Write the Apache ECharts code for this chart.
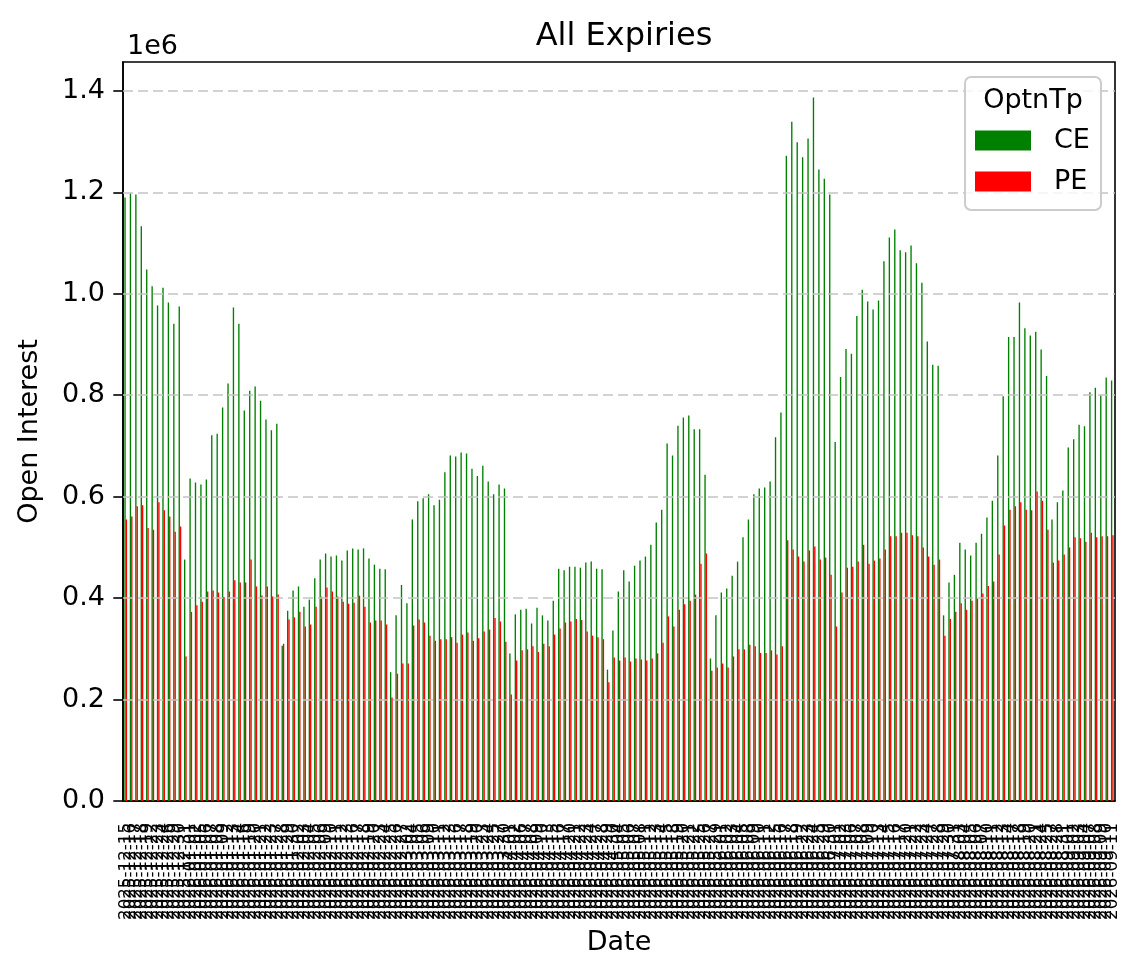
<!DOCTYPE html>
<html>
<head>
<meta charset="utf-8">
<script src="https://cdn.jsdelivr.net/npm/echarts@6/dist/echarts.min.js"></script>
<style>
  html, body { margin: 0; padding: 0; background: #fff; }
  #main { width: 1141px; height: 976px; }
</style>
</head>
<body>
<div id="main"></div>
<script>
// trading days from 2025-12-15, weekends and exchange holidays skipped
var startDate = '2025-12-15';
var tradingDays = 183;
var holidays = ['2025-12-25', '2026-01-15', '2026-01-26', '2026-03-03', '2026-03-26', '2026-03-31',
  '2026-04-03', '2026-04-14', '2026-05-01', '2026-05-28', '2026-06-26', '2026-08-26'];

var dates = [];
(function () {
  var d = new Date(startDate + 'T00:00:00Z');
  while (dates.length < tradingDays) {
    var s = d.toISOString().slice(0, 10);
    var wd = d.getUTCDay();
    if (wd !== 0 && wd !== 6 && holidays.indexOf(s) < 0) dates.push(s);
    d.setUTCDate(d.getUTCDate() + 1);
  }
})();

// open interest, in millions
var ceValues = [
  1.190, 1.198, 1.196, 1.133, 1.048, 1.015, 0.977, 1.012, 0.983, 0.941,
  0.975, 0.476, 0.636, 0.628, 0.624, 0.634, 0.721, 0.724, 0.776, 0.823,
  0.973, 0.941, 0.770, 0.809, 0.817, 0.789, 0.752, 0.731, 0.744, 0.306,
  0.375, 0.415, 0.423, 0.383, 0.397, 0.439, 0.476, 0.488, 0.482, 0.484,
  0.474, 0.494, 0.498, 0.496, 0.498, 0.478, 0.466, 0.458, 0.457, 0.254,
  0.366, 0.426, 0.390, 0.555, 0.591, 0.597, 0.605, 0.583, 0.594, 0.648,
  0.681, 0.679, 0.687, 0.685, 0.655, 0.641, 0.661, 0.630, 0.605, 0.624,
  0.616, 0.291, 0.368, 0.377, 0.379, 0.350, 0.381, 0.366, 0.356, 0.395,
  0.458, 0.455, 0.462, 0.462, 0.460, 0.470, 0.472, 0.458, 0.457, 0.259,
  0.336, 0.413, 0.455, 0.433, 0.464, 0.474, 0.482, 0.505, 0.549, 0.574,
  0.705, 0.681, 0.740, 0.756, 0.760, 0.733, 0.733, 0.643, 0.281, 0.366,
  0.411, 0.419, 0.444, 0.472, 0.520, 0.555, 0.605, 0.616, 0.618, 0.630,
  0.717, 0.766, 1.272, 1.339, 1.299, 1.269, 1.306, 1.387, 1.245, 1.227,
  1.196, 0.708, 0.836, 0.891, 0.882, 0.956, 1.008, 0.985, 0.969, 0.987,
  1.064, 1.111, 1.127, 1.086, 1.082, 1.095, 1.060, 1.022, 0.906, 0.860,
  0.858, 0.366, 0.431, 0.446, 0.509, 0.496, 0.484, 0.509, 0.527, 0.559,
  0.592, 0.681, 0.798, 0.915, 0.915, 0.983, 0.932, 0.918, 0.925, 0.890,
  0.838, 0.555, 0.589, 0.612, 0.697, 0.713, 0.742, 0.739, 0.806, 0.815,
  0.800, 0.835, 0.829
];
var peValues = [
  0.555, 0.561, 0.581, 0.583, 0.538, 0.535, 0.589, 0.573, 0.561, 0.531,
  0.541, 0.285, 0.373, 0.386, 0.393, 0.413, 0.415, 0.411, 0.402, 0.413,
  0.435, 0.431, 0.431, 0.476, 0.423, 0.405, 0.423, 0.403, 0.407, 0.310,
  0.358, 0.362, 0.373, 0.344, 0.348, 0.383, 0.403, 0.421, 0.413, 0.403,
  0.393, 0.389, 0.391, 0.405, 0.383, 0.352, 0.356, 0.356, 0.348, 0.204,
  0.251, 0.271, 0.271, 0.346, 0.358, 0.352, 0.326, 0.316, 0.319, 0.319,
  0.323, 0.312, 0.328, 0.332, 0.316, 0.321, 0.334, 0.338, 0.361, 0.354,
  0.314, 0.210, 0.277, 0.297, 0.299, 0.305, 0.294, 0.310, 0.305, 0.328,
  0.340, 0.352, 0.354, 0.359, 0.357, 0.334, 0.326, 0.323, 0.319, 0.234,
  0.283, 0.277, 0.283, 0.275, 0.281, 0.279, 0.277, 0.281, 0.291, 0.312,
  0.364, 0.344, 0.377, 0.388, 0.395, 0.407, 0.468, 0.488, 0.257, 0.263,
  0.271, 0.263, 0.285, 0.299, 0.299, 0.308, 0.305, 0.292, 0.292, 0.297,
  0.289, 0.305, 0.514, 0.496, 0.482, 0.472, 0.494, 0.502, 0.476, 0.480,
  0.446, 0.344, 0.411, 0.460, 0.462, 0.472, 0.505, 0.468, 0.474, 0.478,
  0.496, 0.522, 0.522, 0.529, 0.529, 0.524, 0.522, 0.500, 0.482, 0.466,
  0.476, 0.326, 0.359, 0.373, 0.390, 0.377, 0.395, 0.399, 0.409, 0.424,
  0.433, 0.486, 0.543, 0.574, 0.581, 0.589, 0.574, 0.573, 0.610, 0.592,
  0.535, 0.470, 0.474, 0.486, 0.500, 0.520, 0.518, 0.511, 0.529, 0.520,
  0.522, 0.522, 0.524
];

var yTicks = [0, 0.2, 0.4, 0.6, 0.8, 1.0, 1.2, 1.4];
var yMax = 1.457;

var font = 'DejaVu Sans';
var chart = echarts.init(document.getElementById('main'), null, { renderer: 'canvas' });

// dashed horizontal grid at each labelled tick (above 0), drawn over the bars
var gridLines = yTicks.filter(function (v) { return v > 0; }).map(function (v) {
  return { yAxis: v };
});

var option = {
  animation: false,
  backgroundColor: '#fff',
  color: ['#008000', '#ff0000'],
  title: [
    {
      text: 'All Expiries',
      left: 619,
      top: 16,
      textAlign: 'center',
      textStyle: { fontFamily: font, fontSize: 32, fontWeight: 'normal', color: '#000' }
    },
    {
      text: '1e6',
      left: 122,
      top: 28,
      textStyle: { fontFamily: font, fontSize: 27, fontWeight: 'normal', color: '#000' }
    }
  ],
  grid: {
    left: 123, right: 26, top: 62, bottom: 175,
    show: true, borderColor: '#000', borderWidth: 1.6, backgroundColor: 'transparent'
  },
  legend: {
    data: ['CE', 'PE'],
    orient: 'vertical',
    left: 975,
    top: 127,
    padding: 0,
    itemWidth: 56,
    itemHeight: 20,
    itemGap: 14,
    icon: 'rect',
    z: 20,
    textStyle: { fontFamily: font, fontSize: 27, color: '#000', padding: [0, 0, 0, 18] }
  },
  graphic: [
    {
      type: 'rect',
      z: 15,
      shape: { x: 965, y: 77, width: 136, height: 133, r: 6 },
      style: { fill: 'rgba(255,255,255,0.8)', stroke: '#cccccc', lineWidth: 2 }
    },
    {
      type: 'text',
      z: 20,
      x: 1033,
      y: 101,
      style: {
        text: 'OptnTp', fontFamily: font, fontSize: 27, fill: '#000',
        align: 'center', verticalAlign: 'middle'
      }
    }
  ],
  xAxis: {
    type: 'category',
    data: dates,
    name: 'Date',
    nameLocation: 'middle',
    nameGap: 128,
    nameTextStyle: { fontFamily: font, fontSize: 27, color: '#000' },
    axisLine: { lineStyle: { color: '#000', width: 1.6 } },
    axisTick: { alignWithLabel: true, interval: 0, length: 9.7, lineStyle: { color: '#000', width: 1.6 } },
    axisLabel: {
      interval: 0, rotate: 90, margin: 22,
      fontFamily: font, fontSize: 16.7, color: '#000'
    },
    splitLine: { show: false }
  },
  yAxis: {
    type: 'value',
    min: 0,
    max: yMax,
    interval: 0.2,
    name: 'Open Interest',
    nameLocation: 'middle',
    nameRotate: 90,
    nameGap: 80,
    nameTextStyle: { fontFamily: font, fontSize: 27, color: '#000' },
    axisLine: { show: true, lineStyle: { color: '#000', width: 1.6 } },
    axisTick: { show: true, length: 9.7, customValues: yTicks, lineStyle: { color: '#000', width: 1.6 } },
    axisLabel: {
      margin: 18, fontFamily: font, fontSize: 27, color: '#000',
      customValues: yTicks,
      formatter: function (v) { return v.toFixed(1); }
    },
    splitLine: { show: false }
  },
  series: [
    {
      name: 'CE',
      type: 'bar',
      data: ceValues,
      barWidth: '25%',
      barGap: '0%',
      markLine: {
        silent: true,
        symbol: 'none',
        label: { show: false },
        lineStyle: { color: '#c4c4c4', width: 1.5, type: [10, 5] },
        emphasis: { disabled: true },
        data: gridLines
      }
    },
    {
      name: 'PE',
      type: 'bar',
      data: peValues,
      barWidth: '25%',
      barGap: '0%'
    }
  ]
};

chart.setOption(option);
</script>
</body>
</html>
